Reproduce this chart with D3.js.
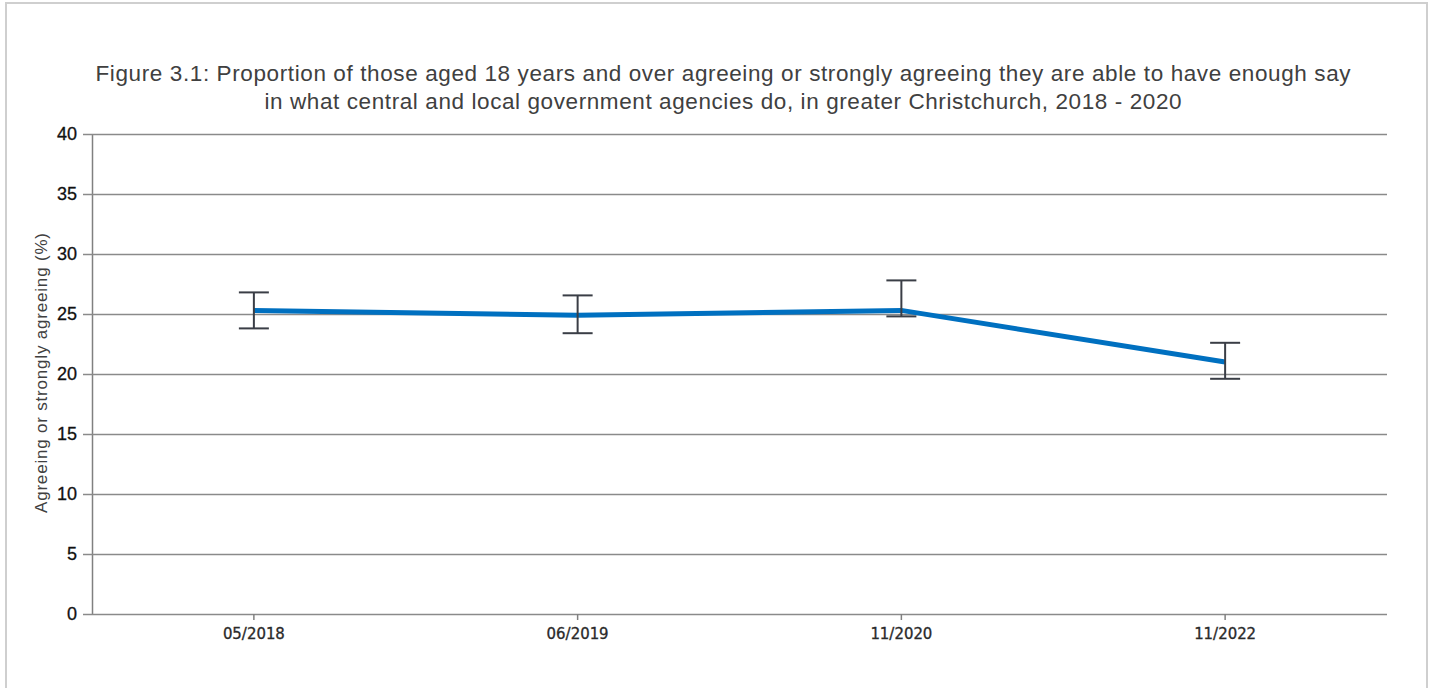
<!DOCTYPE html>
<html>
<head>
<meta charset="utf-8">
<script src="https://cdn.jsdelivr.net/npm/d3@7"></script>
<style>
  body { margin: 0; background: #fff; }
  #frame { position: absolute; left: 5px; top: 2px; width: 1423px; height: 700px; border: 2px solid #cfcfcf; box-sizing: border-box; }
  svg { position: absolute; left: 0; top: 0; }
</style>
</head>
<body>
<div id="frame"></div>
<svg id="chart" width="1436" height="688"></svg>
<script>
// survey waves
var waves = ['05/2018', '06/2019', '11/2020', '11/2022'];
// percent agreeing, with confidence interval ends
var agreeing = [25.3, 24.9, 25.3, 21.0];
var lowerCI = [23.8, 23.4, 24.8, 19.6];
var upperCI = [26.8, 26.55, 27.8, 22.6];
var yTicks = [0, 5, 10, 15, 20, 25, 30, 35, 40];
var titleLines = [
    'Figure 3.1: Proportion of those aged 18 years and over agreeing or strongly agreeing they are able to have enough say',
    'in what central and local government agencies do, in greater Christchurch, 2018 - 2020'
];
var titleWidths = [1255, 917];

var svg = d3.select('#chart');
var plotLeft = 92, plotRight = 1387, plotTop = 134, plotBottom = 614;

var x = d3.scaleBand().domain(waves).range([plotLeft, plotRight]);
var y = d3.scaleLinear().domain([0, 40]).range([plotBottom, plotTop]);

var points = waves.map(function(w, i) {
    return {wave: w, v: agreeing[i], lo: lowerCI[i], hi: upperCI[i]};
});

// title (the original renders wide, so stretch to its width)
svg.append('g').selectAll('text').data(titleLines).enter()
    .append('text')
    .attr('x', 723)
    .attr('y', function(d, i) { return 81 + i * 28; })
    .attr('text-anchor', 'middle')
    .attr('textLength', function(d, i) { return titleWidths[i]; })
    .attr('lengthAdjust', 'spacing')
    .style('font-family', 'Liberation Sans, Arial, sans-serif')
    .style('font-size', '22.5px')
    .style('fill', '#404040')
    .text(function(d) { return d; });

// gridlines + y axis
var yAxis = svg.append('g')
    .attr('transform', 'translate(' + plotLeft + ',0)')
    .call(d3.axisLeft(y).tickValues(yTicks).tickSize(-(plotRight - plotLeft)).tickSizeOuter(0).tickPadding(15));
yAxis.select('.domain').attr('stroke', '#808080').attr('stroke-width', 1.5);
yAxis.selectAll('.tick line')
    .attr('x1', -9)
    .attr('stroke', '#8a8a8a')
    .attr('stroke-width', 1.5);
yAxis.selectAll('.tick text')
    .style('font-family', 'Liberation Sans, Arial, sans-serif')
    .style('font-size', '18px')
    .style('fill', '#111')
    .style('stroke', '#111')
    .style('stroke-width', 0.3);

// x axis
var xAxis = svg.append('g')
    .attr('transform', 'translate(0,' + plotBottom + ')')
    .call(d3.axisBottom(x).tickSize(6).tickSizeOuter(0).tickPadding(5));
xAxis.select('.domain').remove();
xAxis.selectAll('.tick line').attr('stroke', '#808080').attr('stroke-width', 1.5);
xAxis.selectAll('.tick text')
    .attr('dy', '0.9em')
    .attr('textLength', 62)
    .attr('lengthAdjust', 'spacingAndGlyphs')
    .style('font-family', 'DejaVu Sans Condensed, DejaVu Sans, sans-serif')
    .style('font-size', '15px')
    .style('fill', '#2a2a2a')
    .style('stroke', '#2a2a2a')
    .style('stroke-width', 0.3);

// y axis title
svg.append('text')
    .attr('transform', 'translate(47,373) rotate(-90)')
    .attr('text-anchor', 'middle')
    .attr('textLength', 280)
    .attr('lengthAdjust', 'spacing')
    .style('font-family', 'Liberation Sans, Arial, sans-serif')
    .style('font-size', '17px')
    .style('fill', '#404040')
    .text('Agreeing or strongly agreeing (%)');

var cx = function(d) { return x(d.wave) + x.bandwidth() / 2; };

// the line
var line = d3.line()
    .x(cx)
    .y(function(d) { return y(d.v); });

svg.append('path')
    .datum(points)
    .attr('d', line)
    .attr('fill', 'none')
    .attr('stroke', '#0070c0')
    .attr('stroke-width', 5);

// error bars
var err = svg.append('g').selectAll('g').data(points).enter().append('g')
    .attr('stroke', '#3a3e46')
    .attr('stroke-width', 2);
err.append('line')
    .attr('x1', cx).attr('x2', cx)
    .attr('y1', function(d) { return y(d.lo); })
    .attr('y2', function(d) { return y(d.hi); });
err.append('line')
    .attr('x1', function(d) { return cx(d) - 15; })
    .attr('x2', function(d) { return cx(d) + 15; })
    .attr('y1', function(d) { return y(d.hi); })
    .attr('y2', function(d) { return y(d.hi); });
err.append('line')
    .attr('x1', function(d) { return cx(d) - 15; })
    .attr('x2', function(d) { return cx(d) + 15; })
    .attr('y1', function(d) { return y(d.lo); })
    .attr('y2', function(d) { return y(d.lo); });
</script>
</body>
</html>
